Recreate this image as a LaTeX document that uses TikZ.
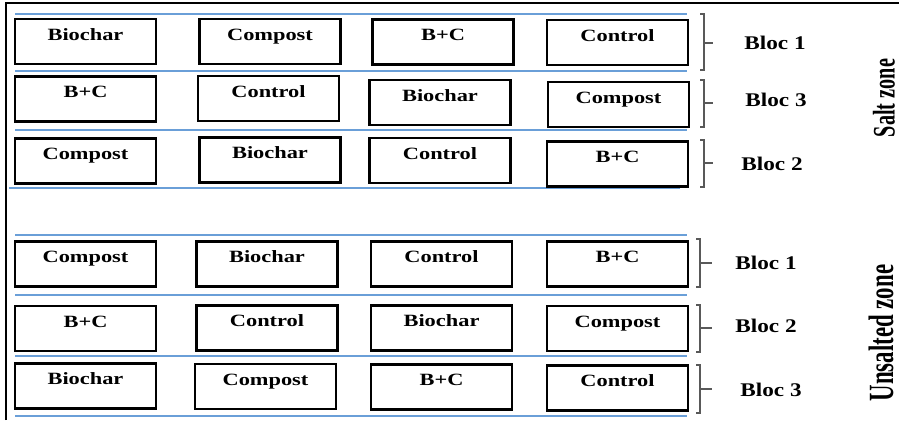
\documentclass[tikz,border=0pt]{standalone}
\usepackage{fontspec}
\usepackage{graphicx}
\setmainfont{Liberation Serif}
\definecolor{rowblue}{HTML}{6A9FD8}
\definecolor{bracegray}{HTML}{595959}
\newcommand{\plotname}[1]{\scalebox{1.3}[1]{\fontsize{9.8}{11}\selectfont\bfseries #1}}
\newcommand{\blocname}[1]{\scalebox{1.2}[1]{\fontsize{11}{13}\selectfont\bfseries #1}}
\newcommand{\zonename}[2]{\scalebox{1}[1.55]{\fontsize{#1}{14}\selectfont\bfseries #2}}

\begin{document}
\begin{tikzpicture}[x=0.02cm, y=-0.02cm,
    plot/.style={draw, line width=1.6pt, inner sep=0pt, minimum width=2.82cm,
      minimum height=0.9cm, text height=0.42cm, text depth=0.48cm},
    row/.style={rowblue, line width=1.2pt},
    bracket/.style={bracegray, line width=0.8pt}]
  \useasboundingbox (0,0) rectangle (899,420);
  \draw[line width=0.7pt] (6,420) -- (6,3) -- (899,3);
  \begin{scope}
    \draw[row] (15,14) -- (687,14);
    \draw[row] (15,71) -- (687,71);
    \draw[row] (15,130) -- (687,130);
    \draw[row] (9,188) -- (680,188);
    \node[plot] (s11) at (85.5,41.5) {\plotname{Biochar}};
    \node[plot] (s12) at (270,41.5) {\plotname{Compost}};
    \node[plot] (s13) at (443,42) {\plotname{B+C}};
    \node[plot] (s14) at (617.5,42.5) {\plotname{Control}};
    \node[plot] (s21) at (85.5,99) {\plotname{B+C}};
    \node[plot] (s22) at (268.5,98.5) {\plotname{Control}};
    \node[plot] (s23) at (440,102.5) {\plotname{Biochar}};
    \node[plot] (s24) at (618.5,104.5) {\plotname{Compost}};
    \node[plot] (s31) at (85.5,161) {\plotname{Compost}};
    \node[plot] (s32) at (270,160) {\plotname{Biochar}};
    \node[plot] (s33) at (440,160.5) {\plotname{Control}};
    \node[plot] (s34) at (617.5,164) {\plotname{B+C}};
    \draw[bracket] (700,14) -- (704,14) -- (704,70) -- (700,70) (704,43) -- (713,43);
    \draw[bracket] (700,80) -- (704,80) -- (704,127) -- (700,127) (704,103) -- (713,103);
    \draw[bracket] (700,140) -- (704,140) -- (704,187) -- (700,187) (704,163) -- (713,163);
    \node (sb1) at (775,43) {\blocname{Bloc 1}};
    \node (sb3) at (776,100) {\blocname{Bloc 3}};
    \node (sb2) at (772,164) {\blocname{Bloc 2}};
    \node[rotate=90] (salt) at (884,98) {\zonename{11.5}{Salt zone}};
  \end{scope}
  \begin{scope}
    \draw[row] (15,235) -- (687,235);
    \draw[row] (15,295) -- (687,295);
    \draw[row] (15,356) -- (687,356);
    \draw[row] (15,416) -- (687,416);
    \node[plot] (u11) at (85.5,264) {\plotname{Compost}};
    \node[plot] (u12) at (267,264) {\plotname{Biochar}};
    \node[plot] (u13) at (441.5,264) {\plotname{Control}};
    \node[plot] (u14) at (617.5,264) {\plotname{B+C}};
    \node[plot] (u21) at (85.5,328.5) {\plotname{B+C}};
    \node[plot] (u22) at (267,328) {\plotname{Control}};
    \node[plot] (u23) at (441.5,328) {\plotname{Biochar}};
    \node[plot] (u24) at (617.5,328.5) {\plotname{Compost}};
    \node[plot] (u31) at (85.5,386) {\plotname{Biochar}};
    \node[plot] (u32) at (265.5,386.5) {\plotname{Compost}};
    \node[plot] (u33) at (441.5,387) {\plotname{B+C}};
    \node[plot] (u34) at (617.5,388) {\plotname{Control}};
    \draw[bracket] (696,239) -- (700,239) -- (700,287) -- (696,287) (700,263) -- (712,263);
    \draw[bracket] (696,305) -- (700,305) -- (700,352) -- (696,352) (700,328) -- (712,328);
    \draw[bracket] (696,365) -- (700,365) -- (700,413) -- (696,413) (700,389) -- (712,389);
    \node (ub1) at (766,263) {\blocname{Bloc 1}};
    \node (ub2) at (766,326) {\blocname{Bloc 2}};
    \node (ub3) at (771,390) {\blocname{Bloc 3}};
    \node[rotate=90] (unsalted) at (881,333) {\zonename{13}{Unsalted zone}};
  \end{scope}
\end{tikzpicture}
\end{document}
